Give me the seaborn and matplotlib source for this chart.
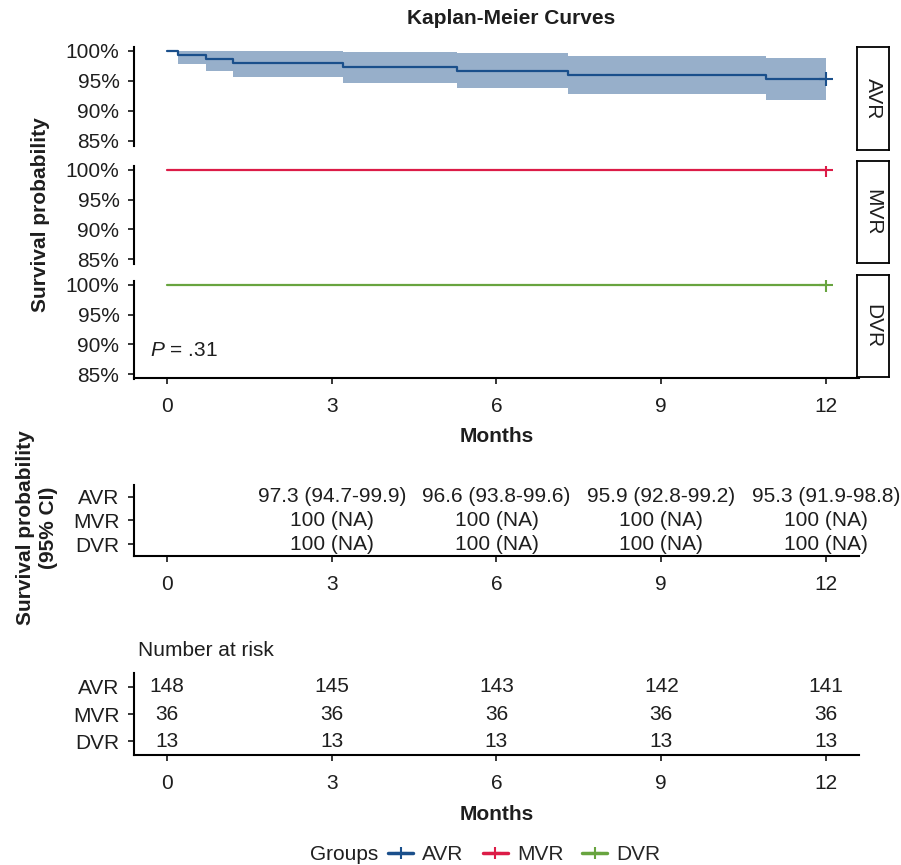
import numpy as np
import pandas as pd
import seaborn as sns
import matplotlib.pyplot as plt
from matplotlib.lines import Line2D

sns.set_theme(style="white")
plt.rcParams['font.family'] = ['Liberation Sans', 'DejaVu Sans']
plt.rcParams['mathtext.fontset'] = 'custom'
plt.rcParams['mathtext.it'] = 'Liberation Sans:italic'
plt.rcParams['mathtext.rm'] = 'Liberation Sans'

groups = ["AVR", "MVR", "DVR"]
colors = {"AVR": "#1a4f8b", "MVR": "#dc1c47", "DVR": "#68a43f"}

# Kaplan-Meier steps
avr_time = [0, 0.2, 0.71, 1.2, 3.2, 5.28, 7.3, 10.9, 12]
avr_surv = [100, 99.32, 98.65, 97.97, 97.30, 96.62, 95.95, 95.27, 95.27]
avr_lower = [np.nan, 97.9, 96.75, 95.7, 94.7, 93.8, 92.8, 91.9, 91.9]
avr_upper = [np.nan, 100, 100, 100, 99.9, 99.6, 99.2, 98.8, 98.8]
mvr_time = [0, 12]
mvr_surv = [100, 100]
dvr_time = [0, 12]
dvr_surv = [100, 100]

# survival table
table_times = [3, 6, 9, 12]
ci_avr = ["97.3 (94.7-99.9)", "96.6 (93.8-99.6)", "95.9 (92.8-99.2)", "95.3 (91.9-98.8)"]
ci_mvr = ["100 (NA)", "100 (NA)", "100 (NA)", "100 (NA)"]
ci_dvr = ["100 (NA)", "100 (NA)", "100 (NA)", "100 (NA)"]

# number at risk
risk_times = [0, 3, 6, 9, 12]
risk_avr = [148, 145, 143, 142, 141]
risk_mvr = [36, 36, 36, 36, 36]
risk_dvr = [13, 13, 13, 13, 13]

xticks = [0, 3, 6, 9, 12]
yticks = [85, 90, 95, 100]

km = pd.concat([
    pd.DataFrame({"time": avr_time, "surv": avr_surv, "group": "AVR"}),
    pd.DataFrame({"time": mvr_time, "surv": mvr_surv, "group": "MVR"}),
    pd.DataFrame({"time": dvr_time, "surv": dvr_surv, "group": "DVR"}),
])

W, H = 901, 865
fig = plt.figure(figsize=(W / 100, H / 100), dpi=100)


def box(x0, y0, x1, y1):
    return [x0 / W, 1 - y1 / H, (x1 - x0) / W, (y1 - y0) / H]


FS = 15
TXT = "#1e1e1e"
XL = (-0.6, 12.6)


def style(ax, bottom=True):
    for s in ["top", "right"]:
        ax.spines[s].set_visible(False)
    ax.spines["left"].set_linewidth(1.5)
    ax.spines["left"].set_color("black")
    ax.spines["bottom"].set_linewidth(1.5)
    ax.spines["bottom"].set_color("black")
    ax.spines["bottom"].set_visible(bottom)
    ax.tick_params(axis="both", length=4.5, width=1.1, color="black",
                   labelsize=FS, labelcolor=TXT, pad=6, direction="out")
    ax.tick_params(axis="y", left=True)
    ax.tick_params(axis="x", pad=9, bottom=bottom, labelbottom=bottom)
    ax.set_xlim(*XL)
    ax.set_xticks(xticks)
    ax.set_xlabel("")
    ax.set_ylabel("")
    ax.grid(False)


panels = [(46.5, 145.5), (165.5, 263.5), (280.5, 378.5)]
strips = [(47, 150), (161, 263), (275, 377)]
axes = []
for i, g in enumerate(groups):
    ax = fig.add_axes(box(134, panels[i][0], 859, panels[i][1]))
    d = km[km["group"] == g]
    if g == "AVR":
        ax.fill_between(avr_time, avr_lower, avr_upper, step="post",
                        color=colors[g], alpha=0.45, linewidth=0)
    sns.lineplot(data=d, x="time", y="surv", ax=ax, color=colors[g],
                 drawstyle="steps-post", linewidth=1.6, estimator=None,
                 sort=False, legend=False)
    last = d.iloc[[-1]]
    sns.scatterplot(data=last, x="time", y="surv", ax=ax, marker="+",
                    s=110, linewidth=1.5, color=colors[g], legend=False)
    ax.set_ylim(84.25, 100.75)
    ax.set_yticks(yticks)
    ax.set_yticklabels([f"{v}%" for v in yticks])
    style(ax, bottom=(i == 2))
    axes.append(ax)

    sax = fig.add_axes(box(857, strips[i][0], 889, strips[i][1]))
    sax.set_xticks([])
    sax.set_yticks([])
    sax.set_facecolor("white")
    for s in sax.spines.values():
        s.set_visible(True)
        s.set_color("black")
        s.set_linewidth(1.3)
    sax.text(0.5, 0.5, g, rotation=-90, ha="center", va="center",
             fontsize=FS, color=TXT, transform=sax.transAxes)

axes[2].text(-0.3, 89, "$P$ = .31", ha="left", va="center", fontsize=FS,
             color=TXT)

# survival probability table
tab = fig.add_axes(box(134, 485, 859, 556))
rows = {"AVR": 3, "MVR": 2, "DVR": 1}
for g, vals in zip(groups, [ci_avr, ci_mvr, ci_dvr]):
    for t, s in zip(table_times, vals):
        tab.text(t, rows[g], s, ha="center", va="center", fontsize=FS,
                 color=TXT)
tab.set_ylim(0.5, 3.5)
tab.set_yticks([rows[g] for g in groups])
tab.set_yticklabels(groups)
style(tab)

# risk table
risk = fig.add_axes(box(134, 673, 859, 755))
for g, vals in zip(groups, [risk_avr, risk_mvr, risk_dvr]):
    for t, n in zip(risk_times, vals):
        risk.text(t, rows[g], str(n), ha="center", va="center", fontsize=FS,
                  color=TXT)
risk.set_ylim(0.5, 3.5)
risk.set_yticks([rows[g] for g in groups])
risk.set_yticklabels(groups)
style(risk)

# texts
fig.text(511 / W, 1 - 18 / H, "Kaplan-Meier Curves", ha="center", va="center",
         fontsize=FS, fontweight="bold", color=TXT)
fig.text(496.5 / W, 1 - 437 / H, "Months", ha="center", va="center",
         fontsize=FS, fontweight="bold", color=TXT)
fig.text(496.5 / W, 1 - 815 / H, "Months", ha="center", va="center",
         fontsize=FS, fontweight="bold", color=TXT)
fig.text(41 / W, 1 - 215 / H, "Survival probability", rotation=90,
         ha="center", va="center", fontsize=FS, fontweight="bold",
         color=TXT)
fig.text(26 / W, 1 - 528 / H, "Survival probability", rotation=90,
         ha="center", va="center", fontsize=FS, fontweight="bold",
         color=TXT)
fig.text(48 / W, 1 - 528 / H, "(95% CI)", rotation=90,
         ha="center", va="center", fontsize=FS, fontweight="bold",
         color=TXT)
fig.text(138 / W, 1 - 650 / H, "Number at risk", ha="left", va="center",
         fontsize=FS, color=TXT)

# legend
fig.text(310 / W, 1 - 855 / H, "Groups", ha="left", va="center",
         fontsize=FS, color=TXT)
handles = [Line2D([], [], color=colors[g], linewidth=2.5, marker="+",
                  markersize=8, markeredgewidth=1.5) for g in groups]
fig.legend(handles, groups, loc="center left",
           bbox_to_anchor=(388 / W, 1 - 855 / H), ncol=3, frameon=False,
           handlelength=1.2, handletextpad=0.45, columnspacing=0.9,
           fontsize=FS, borderaxespad=0, borderpad=0)

fig.savefig("out.png", dpi=100)
